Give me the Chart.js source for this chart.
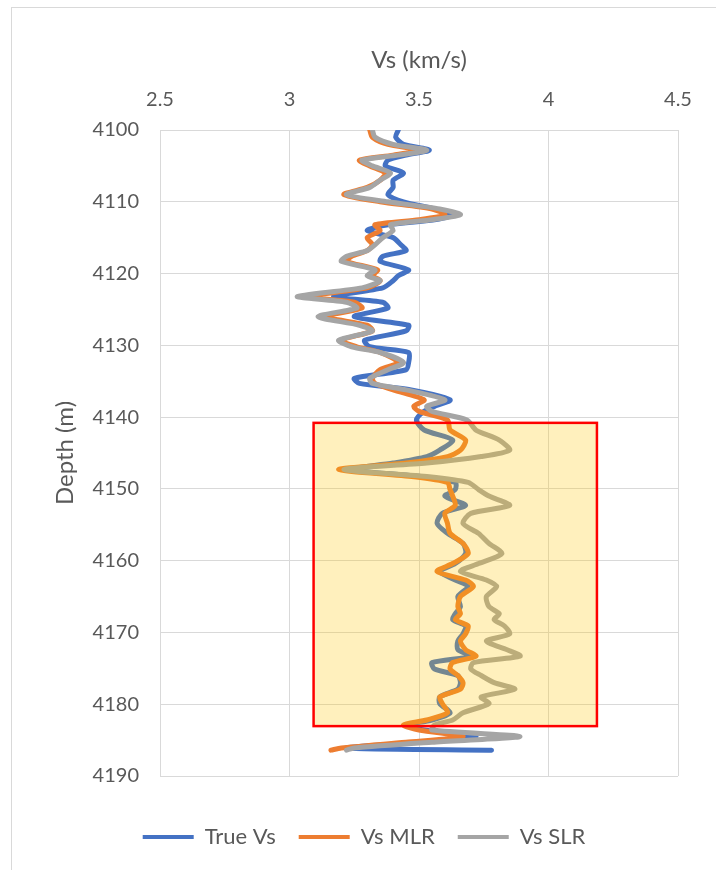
<!DOCTYPE html>
<html>
<head>
<meta charset="utf-8">
<script src="https://cdn.jsdelivr.net/npm/chart.js@4/dist/chart.umd.min.js"></script>
<style>
  html, body { margin: 0; padding: 0; background: #ffffff; }
  #wrap { position: relative; width: 716px; height: 870px; overflow: hidden; }
  #frame { position: absolute; left: 11px; top: 7px; width: 720px; height: 880px;
           border-left: 1px solid #D9D9D9; border-top: 1px solid #D9D9D9; }
  canvas { position: absolute; left: 0; top: 0; }
</style>
</head>
<body>
<div id="wrap">
  <div id="frame"></div>
  <canvas id="c" width="716" height="870"></canvas>
</div>
<script>
// ---- data ----
const depth = [
  4100, 4101, 4102, 4102.8, 4103.5, 4104.2, 4105, 4106, 4107, 4108,
  4109, 4110, 4111, 4111.8, 4112.5, 4113.2, 4114, 4115, 4116, 4116.8,
  4117.6, 4118.3, 4119.5, 4120.3, 4121, 4122, 4123.2, 4124, 4124.8, 4126,
  4127.2, 4128, 4129.3, 4130.2, 4131, 4132.4, 4133.4, 4134.6, 4135.3, 4136.2,
  4137.6, 4138.5, 4139.2, 4140.4, 4141.8, 4143.2, 4144.6, 4145.5, 4146.4, 4147.3,
  4148.3, 4149.1, 4150.1, 4151, 4152.3, 4153.4, 4154.8, 4156.2, 4157.6, 4159,
  4160.4, 4161.5, 4162.7, 4163.6, 4165, 4166.4, 4167.4, 4168.2, 4169.1, 4170.2,
  4171.2, 4172.4, 4173.3, 4174.2, 4175.1, 4176, 4177, 4177.9, 4179, 4179.9,
  4181.2, 4182.2, 4182.9, 4183.6, 4184.5, 4185.3, 4186.1, 4186.4
];
const trueVs = [
  3.42, 3.41, 3.44, 3.54, 3.45, 3.38, 3.37, 3.44, 3.40, 3.40,
  3.38, 3.44, 3.56, 3.63, 3.56, 3.38, 3.30, 3.40, 3.43, 3.45,
  3.36, 3.35, 3.46, 3.42, 3.40, 3.36, 3.17, 3.36, 3.38, 3.25,
  3.46, 3.45, 3.29, 3.31, 3.46, 3.46, 3.45, 3.25, 3.27, 3.47,
  3.62, 3.56, 3.52, 3.49, 3.52, 3.63, 3.58, 3.53, 3.40, 3.23,
  3.51, 3.64, 3.64, 3.60, 3.68, 3.59, 3.57, 3.61, 3.67, 3.68,
  3.64, 3.58, 3.64, 3.69, 3.65, 3.66, 3.64, 3.63, 3.68, 3.67,
  3.65, 3.65, 3.70, 3.55, 3.56, 3.65, 3.66, 3.65, 3.58, 3.58,
  3.62, 3.55, 3.45, 3.52, 3.72, 3.50, 3.22, 3.78
];
const vsMLR = [
  3.31, 3.32, 3.38, 3.50, 3.40, 3.27, 3.31, 3.37, 3.35, 3.30,
  3.21, 3.35, 3.55, 3.60, 3.50, 3.33, 3.35, 3.30, 3.32, 3.30,
  3.24, 3.22, 3.34, 3.32, 3.35, 3.30, 3.07, 3.25, 3.28, 3.14,
  3.30, 3.32, 3.20, 3.26, 3.35, 3.42, 3.35, 3.32, 3.33, 3.40,
  3.52, 3.48, 3.50, 3.61, 3.62, 3.68, 3.66, 3.61, 3.45, 3.19,
  3.48, 3.61, 3.62, 3.63, 3.64, 3.60, 3.61, 3.62, 3.67, 3.69,
  3.63, 3.57, 3.68, 3.71, 3.66, 3.65, 3.66, 3.64, 3.69, 3.68,
  3.66, 3.68, 3.72, 3.63, 3.62, 3.65, 3.67, 3.66, 3.58, 3.59,
  3.61, 3.53, 3.44, 3.50, 3.67, 3.45, 3.20, 3.16
];
const vsSLR = [
  3.32, 3.33, 3.40, 3.53, 3.42, 3.28, 3.32, 3.39, 3.35, 3.31,
  3.22, 3.38, 3.58, 3.66, 3.55, 3.39, 3.40, 3.36, 3.33, 3.30,
  3.22, 3.20, 3.33, 3.30, 3.35, 3.28, 3.03, 3.22, 3.26, 3.11,
  3.27, 3.32, 3.19, 3.24, 3.35, 3.44, 3.38, 3.31, 3.32, 3.45,
  3.60, 3.53, 3.55, 3.685, 3.72, 3.81, 3.85, 3.74, 3.53, 3.21,
  3.54, 3.69, 3.73, 3.77, 3.85, 3.70, 3.67, 3.73, 3.77, 3.82,
  3.73, 3.66, 3.76, 3.80, 3.76, 3.77, 3.81, 3.79, 3.83, 3.85,
  3.76, 3.84, 3.89, 3.71, 3.70, 3.74, 3.79, 3.87, 3.74, 3.77,
  3.67, 3.63, 3.56, 3.55, 3.89, 3.55, 3.25, 3.22
];
const seriesNames = ['True Vs', 'Vs MLR', 'Vs SLR'];
const xTickValues = [2.5, 3, 3.5, 4, 4.5];
const yTickValues = [4100, 4110, 4120, 4130, 4140, 4150, 4160, 4170, 4180, 4190];
// highlighted interval (data units): Vs from..to, depth from..to
const highlightVs = [3.093, 4.187];
const highlightDepth = [4140.8, 4183.05];

// ---- build ----
const colors = ['#4472C4', '#ED7D31', '#A5A5A5'];
const valueSets = [trueVs, vsMLR, vsSLR];
const drawOrder = [2, 1, 0]; // gray on top
const datasets = valueSets.map((vals, i) => ({
  label: seriesNames[i],
  data: vals.map((v, k) => ({ x: v, y: depth[k] })),
  borderColor: colors[i],
  backgroundColor: colors[i],
  borderWidth: 5,
  borderJoinStyle: 'round',
  borderCapStyle: 'round',
  pointRadius: 0,
  showLine: true,
  tension: 0.25,
  order: drawOrder[i]
}));

const highlightPlugin = {
  id: 'highlight',
  afterDatasetsDraw(chart) {
    const { ctx, scales: { x, y } } = chart;
    const x0 = x.getPixelForValue(highlightVs[0]);
    const x1 = x.getPixelForValue(highlightVs[1]);
    const y0 = y.getPixelForValue(highlightDepth[0]);
    const y1 = y.getPixelForValue(highlightDepth[1]);
    ctx.save();
    ctx.fillStyle = 'rgba(255, 196, 0, 0.26)';
    ctx.fillRect(x0, y0, x1 - x0, y1 - y0);
    ctx.strokeStyle = '#FF0000';
    ctx.lineWidth = 2.5;
    ctx.strokeRect(x0, y0, x1 - x0, y1 - y0);
    ctx.restore();
  }
};

const textColor = '#595959';
const gridColor = '#D9D9D9';

new Chart(document.getElementById('c'), {
  type: 'scatter',
  data: { datasets },
  plugins: [highlightPlugin],
  options: {
    responsive: false,
    animation: false,
    devicePixelRatio: 1,
    layout: { padding: { left: 50, right: 38, top: 0, bottom: 12 } },
    scales: {
      x: {
        type: 'linear',
        position: 'top',
        min: 2.5, max: 4.5,
        afterBuildTicks: s => { s.ticks = xTickValues.map(v => ({ value: v })); },
        afterFit: s => { s.height = 130; },
        grid: { color: gridColor, lineWidth: 1, drawTicks: false },
        border: { display: false },
        ticks: { color: textColor, font: { family: 'Lato', size: 20 }, padding: 18,
                 callback: v => String(v) },
        title: { display: true, text: 'Vs (km/s)', color: textColor,
                 font: { family: 'Lato', size: 24 }, padding: { top: 46, bottom: 0 } }
      },
      y: {
        type: 'linear',
        reverse: true,
        min: 4100, max: 4190,
        afterBuildTicks: s => { s.ticks = yTickValues.map(v => ({ value: v })); },
        afterFit: s => { s.width = 110; },
        grid: { color: gridColor, lineWidth: 1, drawTicks: false },
        border: { display: false },
        ticks: { color: textColor, font: { family: 'Lato', size: 20 }, padding: 21,
                 callback: v => String(v) },
        title: { display: true, text: 'Depth (m)', color: textColor,
                 font: { family: 'Lato', size: 24 }, padding: { top: 1, bottom: 0 } }
      }
    },
    plugins: {
      tooltip: { enabled: false },
      legend: {
        position: 'bottom',
        align: 'center',
        title: { display: true, text: '', font: { size: 12 }, padding: { top: 0, bottom: 12.6 } },
        labels: {
          color: textColor,
          font: { family: 'Lato', size: 22 },
          boxWidth: 51,
          boxHeight: 4,
          padding: 23,
          sort: (a, b) => a.datasetIndex - b.datasetIndex,
          generateLabels: chart => {
            const items = Chart.defaults.plugins.legend.labels.generateLabels(chart);
            items.forEach(it => { it.lineWidth = 0; it.strokeStyle = 'rgba(0,0,0,0)'; });
            return items;
          }
        }
      }
    }
  }
});
</script>
</body>
</html>
